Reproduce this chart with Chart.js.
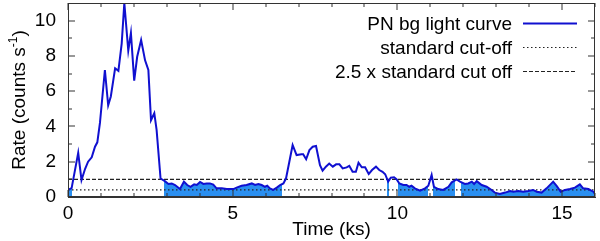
<!DOCTYPE html>
<html>
<head>
<meta charset="utf-8">
<script src="https://cdn.jsdelivr.net/npm/chart.js@4"></script>
<style>
html,body{margin:0;padding:0;background:#fff;}
#c{display:block;}
</style>
</head>
<body>
<canvas id="c" width="600" height="241"></canvas>
<script>
// ---- data ----
const times = [0.00,0.11,0.31,0.41,0.52,0.61,0.72,0.82,0.89,0.97,1.12,1.22,1.30,1.43,1.53,1.63,1.71,1.83,1.91,2.01,2.10,2.22,2.34,2.44,2.52,2.62,2.69,2.81,2.94,3.05,3.15,3.25,3.40,3.52,3.62,3.72,3.83,3.91,4.01,4.11,4.21,4.31,4.41,4.51,4.67,4.82,5.02,5.12,5.27,5.42,5.58,5.68,5.78,5.88,5.98,6.05,6.13,6.23,6.34,6.44,6.54,6.62,6.72,6.82,6.94,7.09,7.14,7.23,7.33,7.43,7.53,7.65,7.73,7.83,7.93,8.04,8.14,8.24,8.34,8.46,8.54,8.64,8.74,8.82,8.92,9.02,9.13,9.23,9.35,9.45,9.55,9.63,9.72,9.80,9.90,9.98,10.06,10.18,10.28,10.36,10.43,10.53,10.69,10.84,10.94,11.04,11.11,11.24,11.39,11.55,11.65,11.80,11.90,12.05,12.15,12.26,12.33,12.41,12.56,12.71,12.86,12.96,13.11,13.27,13.42,13.52,13.67,13.82,13.97,14.12,14.23,14.38,14.53,14.73,14.84,14.96,15.09,15.24,15.39,15.54,15.64,15.80,15.95,16.00];
const rates = [0.40,0.50,2.50,0.96,1.60,2.00,2.25,2.85,3.10,4.20,7.20,5.20,5.70,7.30,7.15,8.70,11.00,8.30,9.30,6.60,7.95,8.90,7.75,7.20,4.35,4.75,3.80,1.05,0.90,0.74,0.77,0.68,0.45,0.87,0.68,0.58,0.72,0.68,0.85,0.74,0.77,0.77,0.70,0.49,0.49,0.45,0.45,0.53,0.64,0.68,0.77,0.68,0.74,0.68,0.58,0.64,0.49,0.40,0.53,0.68,0.77,1.06,2.00,2.95,2.38,2.42,2.42,2.14,2.66,2.85,2.89,1.81,1.49,1.72,1.90,1.72,1.85,1.85,1.62,1.68,1.77,1.43,1.43,1.94,1.68,1.68,1.30,1.53,1.72,1.53,1.43,1.29,0.87,1.10,1.12,1.00,0.77,0.68,0.68,0.58,0.64,0.49,0.36,0.49,0.64,1.25,0.58,0.45,0.40,0.58,0.83,1.00,0.87,0.74,0.77,0.87,0.74,0.90,0.68,0.58,0.40,0.25,0.17,0.25,0.34,0.30,0.34,0.30,0.34,0.40,0.30,0.25,0.49,0.87,0.62,0.30,0.40,0.45,0.53,0.72,0.49,0.45,0.30,0.17];
// good time intervals (shaded)
const gtiStart = [0.00, 2.92, 9.70, 10.03, 11.09, 11.92];
const gtiEnd   = [0.11, 6.51, 9.74, 10.94, 11.75, 16.00];
const cutStandard = 0.4;
const cutWide = 1.0;
const xRange = [0, 16];
const yRange = [0, 11];
const xTickLabels = [0, 5, 10, 15];
const xMinorTicks = [1,2,3,4,6,7,8,9,11,12,13,14,16];
const yTickLabels = [0, 2, 4, 6, 8, 10];
const yMinorTicks = [1, 3, 5, 7, 9];
const legendLabels = ['PN bg light curve', 'standard cut-off', '2.5 x standard cut off'];
const xTitle = 'Time (ks)';
const yTitleMain = 'Rate (counts s';
const yTitleSup = '-1';
const yTitleEnd = ')';

// ---- styles ----
const FONT = '"Liberation Sans", Arial, sans-serif';
const FS = 19;
const CURVE = '#1010d0';
const FILLC = '#2a8ff0';
const CUTC = '#222222';
const FRAMEC = '#333333';
const DOT = [1.5, 2.5];
const DASH = [4, 2];

const curvePts = times.map((t, i) => ({x: t, y: rates[i]}));

function gtiGradient(context) {
  const chart = context.chart;
  const area = chart.chartArea;
  if (!area) return 'rgba(0,0,0,0)';
  const xs = chart.scales.x;
  const g = chart.ctx.createLinearGradient(area.left, 0, area.right, 0);
  const w = area.right - area.left;
  const clamp = v => (isFinite(v) ? Math.max(0, Math.min(1, v)) : 0);
  const none = 'rgba(42,143,240,0)';
  for (let i = 0; i < gtiStart.length; i++) {
    const p0 = clamp((xs.getPixelForValue(gtiStart[i]) - area.left) / w);
    const p1 = clamp((xs.getPixelForValue(gtiEnd[i]) - area.left) / w);
    g.addColorStop(p0, none);
    g.addColorStop(p0, FILLC);
    g.addColorStop(p1, FILLC);
    g.addColorStop(p1, none);
  }
  return g;
}

const framePlugin = {
  id: 'gframe',
  afterDraw(chart) {
    const ctx = chart.ctx;
    const a = chart.chartArea;
    const L = Math.round(a.left), R = Math.round(a.right), T = Math.round(a.top), B = Math.round(a.bottom);
    const xs = chart.scales.x, ys = chart.scales.y;
    ctx.save();
    ctx.setLineDash([]);
    ctx.globalAlpha = 1;
    ctx.fillStyle = FRAMEC;
    ctx.fillRect(L, T, R - L, 1);
    ctx.fillRect(L, B - 1, R - L, 1);
    ctx.fillRect(L, T, 1, B - T);
    ctx.fillRect(R - 1, T, 1, B - T);
    const tickX = (v, len) => {
      const px = Math.round(xs.getPixelForValue(v));
      ctx.fillRect(px - 0.5, B - len, 1, len);
      ctx.fillRect(px - 0.5, T, 1, len);
    };
    const tickY = (v, len) => {
      const py = Math.round(ys.getPixelForValue(v));
      ctx.fillRect(L, py - 0.5, len, 1);
      ctx.fillRect(R - len, py - 0.5, len, 1);
    };
    xTickLabels.forEach(v => tickX(v, 7));
    xMinorTicks.forEach(v => tickX(v, 4));
    yTickLabels.forEach(v => tickY(v, 7));
    yMinorTicks.forEach(v => tickY(v, 4));

    // legend
    ctx.fillStyle = '#000';
    ctx.font = FS + 'px ' + FONT;
    ctx.textAlign = 'right';
    ctx.textBaseline = 'alphabetic';
    const textRight = 512, lx0 = 523, lx1 = 577;
    const baselines = [30, 54, 78];
    const styles = [
      {c: CURVE, w: 2, d: []},
      {c: CUTC, w: 1.2, d: DOT},
      {c: CUTC, w: 1.2, d: DASH}
    ];
    legendLabels.forEach((lab, i) => {
      ctx.fillText(lab, textRight, baselines[i]);
      const ly = baselines[i] - 6.5;
      ctx.beginPath();
      ctx.strokeStyle = styles[i].c;
      ctx.lineWidth = styles[i].w;
      ctx.setLineDash(styles[i].d);
      ctx.moveTo(lx0, ly); ctx.lineTo(lx1, ly);
      ctx.stroke();
    });
    ctx.setLineDash([]);

    // axis titles
    ctx.textAlign = 'center';
    ctx.textBaseline = 'alphabetic';
    ctx.font = FS + 'px ' + FONT;
    ctx.fillText(xTitle, (L + R) / 2, 235);

    ctx.translate(25, (T + B) / 2);
    ctx.rotate(-Math.PI / 2);
    ctx.textAlign = 'left';
    const supFS = Math.round(FS * 0.65);
    ctx.font = FS + 'px ' + FONT;
    const w1 = ctx.measureText(yTitleMain).width;
    const w3 = ctx.measureText(yTitleEnd).width;
    ctx.font = supFS + 'px ' + FONT;
    const w2 = ctx.measureText(yTitleSup).width;
    let sx = -(w1 + w2 + w3) / 2;
    ctx.font = FS + 'px ' + FONT;
    ctx.fillText(yTitleMain, sx, 0);
    sx += w1;
    ctx.font = supFS + 'px ' + FONT;
    ctx.fillText(yTitleSup, sx, -8);
    sx += w2;
    ctx.font = FS + 'px ' + FONT;
    ctx.fillText(yTitleEnd, sx, 0);
    ctx.restore();
  }
};

new Chart(document.getElementById('c'), {
  type: 'line',
  data: {
    datasets: [
      {label: legendLabels[0], data: curvePts, borderColor: CURVE, borderWidth: 2, pointRadius: 0, tension: 0, fill: false},
      {label: legendLabels[2], data: [{x: xRange[0], y: cutWide}, {x: xRange[1], y: cutWide}], borderColor: CUTC, borderWidth: 1.2, borderDash: DASH, pointRadius: 0, fill: false},
      {label: legendLabels[1], data: [{x: xRange[0], y: cutStandard}, {x: xRange[1], y: cutStandard}], borderColor: CUTC, borderWidth: 1.2, borderDash: DOT, pointRadius: 0, fill: false},
      {label: 'gti', data: curvePts, borderWidth: 0, borderColor: 'rgba(0,0,0,0)', backgroundColor: gtiGradient, pointRadius: 0, tension: 0, fill: 'origin'}
    ]
  },
  options: {
    responsive: false,
    devicePixelRatio: 1,
    animation: false,
    events: [],
    layout: {padding: {left: 0, right: 5, top: 3, bottom: 0}},
    plugins: {legend: {display: false}, tooltip: {enabled: false}, title: {display: false}},
    scales: {
      x: {
        type: 'linear', min: xRange[0], max: xRange[1],
        grid: {display: false, drawTicks: false},
        border: {display: true, color: FRAMEC, width: 1},
        afterBuildTicks: s => { s.ticks = xTickLabels.map(v => ({value: v})); },
        afterFit: s => { s.height = 44; s.paddingLeft = 0; s.paddingRight = 0; },
        ticks: {color: '#000', font: {family: FONT, size: FS}, padding: 5, maxRotation: 0, autoSkip: false}
      },
      y: {
        type: 'linear', min: yRange[0], max: yRange[1],
        grid: {display: false, drawTicks: false},
        border: {display: true, color: FRAMEC, width: 1},
        afterBuildTicks: s => { s.ticks = yTickLabels.map(v => ({value: v})); },
        afterFit: s => { s.width = 68; s.paddingTop = 0; s.paddingBottom = 0; },
        ticks: {color: '#000', font: {family: FONT, size: FS}, padding: 12, autoSkip: false}
      }
    }
  },
  plugins: [framePlugin]
});
</script>
</body>
</html>
